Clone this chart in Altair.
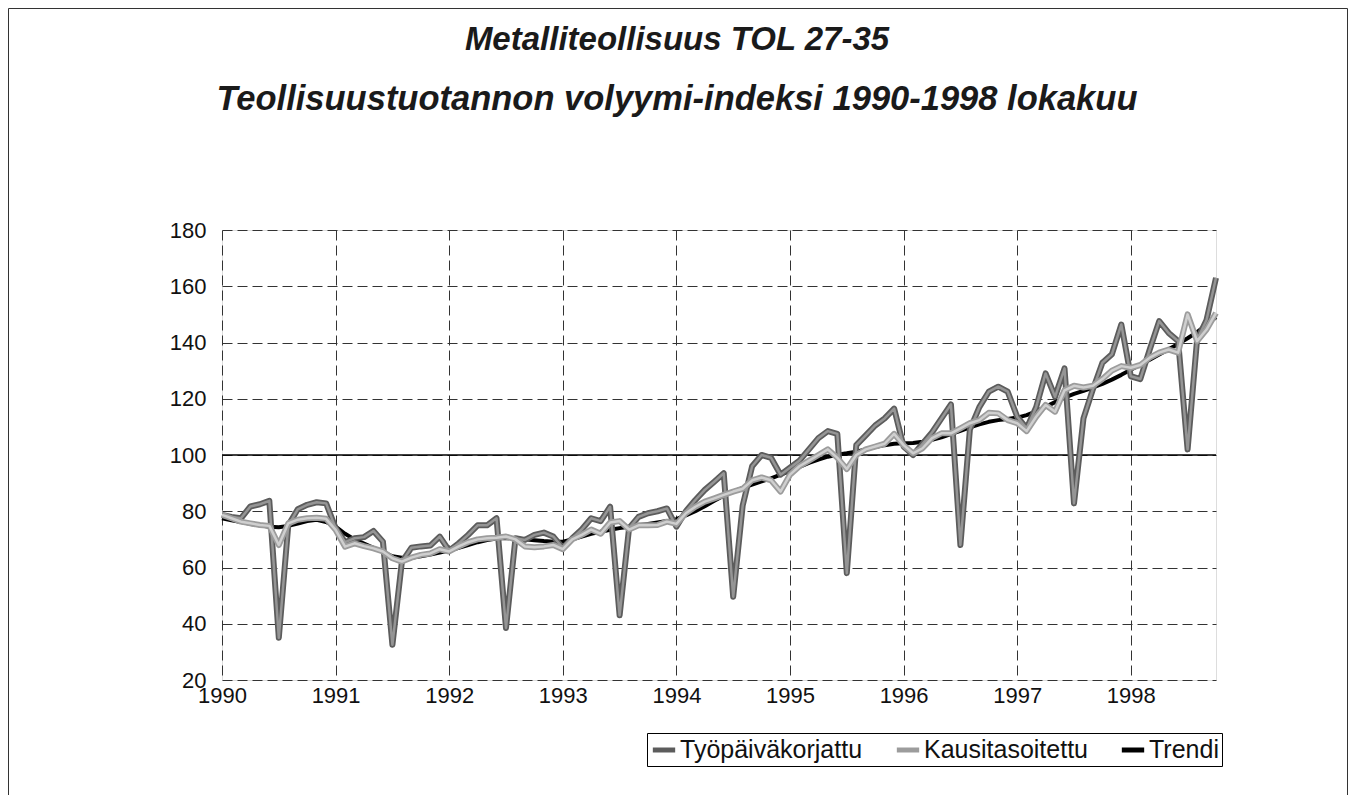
import altair as alt
import pandas as pd

series_names = ["Työpäiväkorjattu", "Kausitasoitettu", "Trendi"]
year_ticks = list(range(1990, 1999))
y_ticks = list(range(20, 181, 20))
ref_level = [100]
title_lines = ["Metalliteollisuus TOL 27-35",
               "Teollisuustuotannon volyymi-indeksi 1990-1998 lokakuu"]

# monthly values Jan 1990 .. Oct 1998
tpk = [78.7, 78.0, 77.5, 81.7, 82.5, 83.7, 35.0, 75.0, 80.7, 82.3, 83.2, 82.8,
       74.0, 69.0, 70.4, 70.8, 73.0, 69.2, 32.5, 62.0, 67.0, 67.5, 67.8, 71.0,
       66.0, 68.6, 71.6, 75.0, 75.0, 77.5, 38.5, 70.4, 69.8, 71.6, 72.4, 71.0,
       67.0, 70.4, 73.5, 77.5, 76.5, 81.6, 43.0, 74.0, 78.0, 79.3, 80.0, 81.0,
       74.5, 80.0, 84.0, 87.6, 90.5, 93.5, 49.6, 82.0, 96.0, 100.0, 99.0, 93.0,
       95.5, 98.0, 102.0, 106.0, 108.5, 107.5, 58.0, 103.5, 107.0, 110.5, 113.0, 116.5,
       103.0, 100.0, 104.0, 108.0, 113.0, 118.0, 68.0, 109.0, 117.0, 122.5, 124.3, 122.5,
       113.6, 109.5, 117.0, 129.0, 120.7, 130.8, 82.8, 113.0, 123.4, 132.8, 135.8, 146.4,
       128.0, 127.0, 137.5, 147.6, 143.4, 140.5, 102.0, 141.0, 148.0, 163.0]
kt = [78.7, 77.5, 76.3, 75.7, 75.1, 74.8, 68.0, 75.7, 77.0, 77.5, 77.7, 77.3,
      73.4, 67.4, 68.6, 67.6, 66.8, 65.7, 63.3, 62.1, 63.5, 64.5, 65.0, 66.5,
      65.7, 67.5, 69.0, 70.0, 70.4, 70.6, 71.0, 70.0, 67.5, 67.2, 67.5, 68.0,
      66.5, 70.0, 71.6, 73.5, 72.0, 76.0, 76.5, 73.5, 75.0, 75.0, 75.1, 76.3,
      75.5, 79.3, 81.6, 83.4, 84.6, 85.8, 87.0, 88.0, 91.0, 92.0, 91.0, 87.0,
      93.0, 96.0, 98.0, 100.0, 102.0, 99.0, 95.0, 100.0, 102.0, 103.0, 104.0, 107.5,
      103.5, 100.6, 102.4, 106.0, 107.7, 107.7, 109.5, 111.3, 112.4, 115.0, 114.8, 112.4,
      111.3, 108.5, 113.6, 117.8, 115.4, 123.0, 124.6, 124.0, 124.6, 127.0, 130.0, 131.6,
      131.0, 132.0, 134.6, 136.4, 137.5, 136.4, 150.0, 140.5, 144.6, 150.5]
trend = [77.5, 76.8, 76.2, 75.5, 75.0, 74.5, 74.3, 74.8, 75.6, 76.5, 77.0, 76.2,
         74.5, 72.0, 70.0, 68.5, 67.0, 65.5, 64.0, 63.5, 63.5, 64.0, 64.6, 65.3,
         66.0, 67.0, 68.0, 69.0, 69.8, 70.3, 70.5, 70.3, 70.0, 69.7, 69.4, 69.2,
         69.2, 70.0, 71.0, 72.0, 72.7, 73.4, 74.0, 74.5, 75.0, 75.5, 76.0, 76.5,
         77.2, 78.5, 80.0, 81.8, 83.7, 85.5, 87.0, 88.3, 89.5, 90.6, 91.7, 93.0,
         94.3, 95.8, 97.2, 98.4, 99.4, 100.1, 100.6, 101.2, 102.0, 102.8, 103.5, 104.0,
         104.2, 104.3, 104.7, 105.4, 106.3, 107.4, 108.6, 109.8, 110.9, 111.8, 112.4, 112.8,
         113.3, 114.2, 115.5, 117.1, 118.8, 120.4, 121.7, 122.8, 124.0, 125.3, 126.8, 128.5,
         130.3, 132.1, 133.9, 135.7, 137.6, 139.5, 141.5, 143.7, 146.3, 149.0]

rows = []
for name, vals in zip(series_names, [tpk, kt, trend]):
    for i, v in enumerate(vals):
        rows.append({"t": 1990 + i / 12.0, "v": v, "s": name})
df = pd.DataFrame(rows)

FONT = "Liberation Sans"

color_scale = alt.Scale(domain=series_names, range=["#5c5c5c", "#9c9c9c", "#000000"])

x_enc = alt.X("t:Q",
              scale=alt.Scale(domain=[1990, 1998.75], nice=False, zero=False),
              axis=alt.Axis(values=year_ticks, format="d", title=None, grid=True,
                            gridDash=[10, 5], gridColor="#333333", gridWidth=1,
                            tickSize=0, domain=False, labelPadding=5,
                            labelFontSize=22, labelFont=FONT, labelColor="#111111",
                            labelFlush=False))
y_enc = alt.Y("v:Q",
              scale=alt.Scale(domain=[20, 180], nice=False, zero=False),
              axis=alt.Axis(values=y_ticks, title=None, grid=True,
                            gridDash=[10, 5], gridColor="#333333", gridWidth=1,
                            tickSize=0, domain=False, labelPadding=16,
                            labelFontSize=22, labelFont=FONT, labelColor="#111111"))

legend = alt.Legend(title=None, orient="none", legendX=425, legendY=503,
                    direction="horizontal", strokeColor="#000000", padding=3,
                    labelFontSize=25, labelFont=FONT, labelColor="#111111",
                    labelLimit=0, symbolType="stroke", symbolStrokeWidth=5,
                    symbolSize=500, columnPadding=23, labelOffset=2,
                    fillColor="white")

color_enc = alt.Color("s:N", scale=color_scale, legend=legend)

base = alt.Chart(df)


def series_layer(name, width, stroke=None):
    ch = base.transform_filter(alt.datum.s == name)
    if stroke is None:
        return ch.mark_line(strokeWidth=width, strokeJoin="round").encode(
            x=x_enc, y=y_enc, color=color_enc)
    return ch.mark_line(strokeWidth=width, strokeJoin="round").encode(
        x=x_enc, y=y_enc, color=alt.value(stroke))


ref_rule = alt.Chart(pd.DataFrame({"v": ref_level})).mark_rule(
    color="#000000", strokeWidth=1.3).encode(y=alt.Y("v:Q"))

frame = alt.Chart(pd.DataFrame({"a": [0]})).mark_rect(
    fill="transparent", stroke="#333333", strokeWidth=1).encode(
    x=alt.value(-213.5), x2=alt.value(1125.5), y=alt.value(-221.5), y2=alt.value(620))

title_df = pd.DataFrame({"line": title_lines})


def title_layer(idx, ypos, size):
    return alt.Chart(title_df).transform_filter(
        alt.datum.line == title_lines[idx]).mark_text(
        font=FONT, fontSize=size, fontStyle="italic", fontWeight="bold",
        color="#1a1a1a", align="center", baseline="alphabetic").encode(
        text="line:N", x=alt.value(455), y=alt.value(ypos))


chart = alt.layer(
    frame,
    ref_rule,
    series_layer("Trendi", 4),
    series_layer("Työpäiväkorjattu", 6),
    series_layer("Työpäiväkorjattu", 2.5, "#959595"),
    series_layer("Kausitasoitettu", 6),
    series_layer("Kausitasoitettu", 2.5, "#cfcfcf"),
    title_layer(0, -180, 33),
    title_layer(1, -120, 34.5),
).properties(
    width=994, height=450,
    padding={"left": 214, "top": 222, "right": 132, "bottom": 115},
    autosize=alt.AutoSizeParams(type="none"),
).configure_view(
    stroke="#000000", strokeWidth=1.5
).configure(background="white")

chart.save("out.html", embed_options={"renderer": "svg", "actions": False})
